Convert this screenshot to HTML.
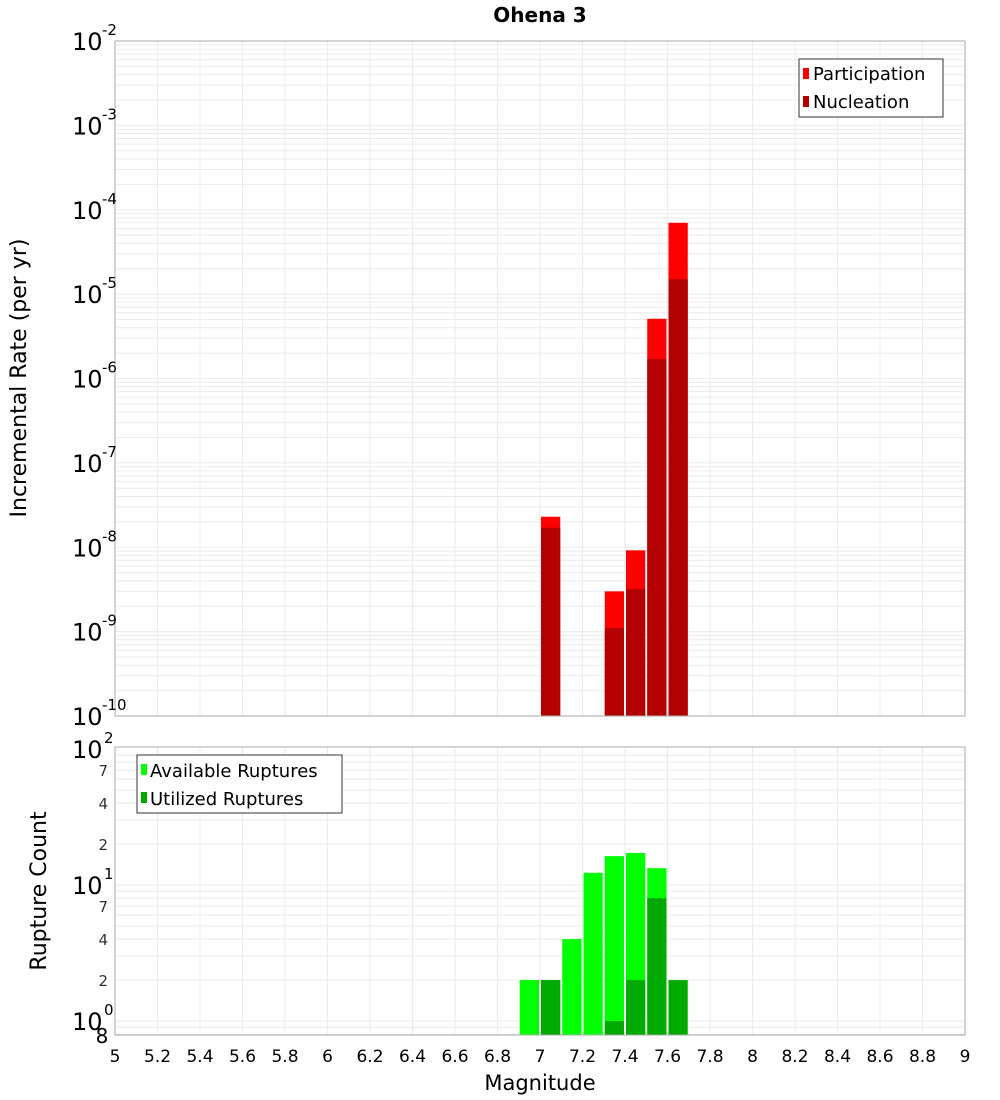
<!DOCTYPE html>
<html><head><meta charset="utf-8"><style>
body{margin:0;background:#fff;}
svg{display:block;font-family:"DejaVu Sans","Liberation Sans",sans-serif;}
</style></head><body>
<svg id="chart" width="1000" height="1100" xmlns="http://www.w3.org/2000/svg">
<rect width="1000" height="1100" fill="#fff"/>
<text x="540" y="22" text-anchor="middle" font-size="20" font-weight="bold">Ohena 3</text>
<g id="topg"></g>
<g id="botg"></g>
<text transform="translate(26,378) rotate(-90)" text-anchor="middle" font-size="22">Incremental Rate (per yr)</text>
<text transform="translate(46,891) rotate(-90)" text-anchor="middle" font-size="22">Rupture Count</text>
<text x="540" y="1090" text-anchor="middle" font-size="21">Magnitude</text>
<g>
<rect x="799" y="59" width="144" height="58" fill="#fff" stroke="#333" stroke-width="1"/>
<rect x="803" y="68" width="6" height="11" fill="#ff0000"/>
<text x="813" y="80" font-size="18">Participation</text>
<rect x="803" y="96" width="6" height="11" fill="#b30000"/>
<text x="813" y="108" font-size="18">Nucleation</text>
</g>
<g>
<rect x="137" y="755" width="205" height="58" fill="#fff" stroke="#333" stroke-width="1"/>
<rect x="141" y="764" width="6" height="11" fill="#00ff00"/>
<text x="150" y="777" font-size="18">Available Ruptures</text>
<rect x="141" y="792" width="6" height="11" fill="#00aa00"/>
<text x="150" y="805" font-size="18">Utilized Ruptures</text>
</g>
</svg>
<script>
const magBins = [6.95, 7.05, 7.15, 7.25, 7.35, 7.45, 7.55, 7.65];
const participation = [0, 2.3e-8, 0, 0, 3.0e-9, 9.2e-9, 5.1e-6, 7.0e-5];
const nucleation = [0, 1.7e-8, 0, 0, 1.1e-9, 3.2e-9, 1.7e-6, 1.5e-5];
const available = [2, 2, 4, 12.3, 16.3, 17.2, 13.3, 0];
const utilized = [0, 2, 0, 0, 1, 2, 8, 2];
const xTicks = ["5","5.2","5.4","5.6","5.8","6","6.2","6.4","6.6","6.8","7","7.2","7.4","7.6","7.8","8","8.2","8.4","8.6","8.8","9"];
const topExps = [-2,-3,-4,-5,-6,-7,-8,-9,-10];
const botExps = [2,1,0];
const botMinor = [2,4,7];

const NS="http://www.w3.org/2000/svg";
const X0=115,X1=965;
const xs=m=>X0+(m-5)/4*(X1-X0);
const yTop=v=>41+(-2-Math.log10(v))*84.375;
const yBot=v=>1021-136*Math.log10(v);
function mk(p,tag,a){const e=document.createElementNS(NS,tag);for(const k in a)e.setAttribute(k,a[k]);p.appendChild(e);return e;}
const topG=document.getElementById('topg'),botG=document.getElementById('botg');

let r=mk(topG,'rect',{x:X0,y:41,width:X1-X0,height:675,fill:'#fff'});


let r2=mk(botG,'rect',{x:X0,y:747,width:X1-X0,height:288,fill:'#fff'});


for(let d=-10;d<-2;d++){for(let k=1;k<10;k++){const y=yTop(k*Math.pow(10,d));mk(topG,'line',{x1:X0,x2:X1,y1:y,y2:y,stroke:'#ebebeb','stroke-width':1});}}
xTicks.forEach(t=>{const x=xs(+t);mk(topG,'line',{x1:x,x2:x,y1:41,y2:716,stroke:'#ebebeb'});mk(botG,'line',{x1:x,x2:x,y1:747,y2:1035,stroke:'#ebebeb'});});
for(let d=-1;d<2;d++){for(let k=1;k<10;k++){const v=k*Math.pow(10,d);const y=yBot(v);if(y<747||y>1035)continue;mk(botG,'line',{x1:X0,x2:X1,y1:y,y2:y,stroke:'#ebebeb'});}}
const bw=(X1-X0)/40;
function bar(g,m,v,yf,base,col,name){if(!v)return;const x=xs(m)-bw/2+1;const y=yf(v);const e=mk(g,'rect',{x:x,y:y,width:bw-2,height:base-y,fill:col});}
magBins.forEach((m,i)=>{bar(topG,m,participation[i],yTop,716,'#ff0000','participation-bar');bar(topG,m,nucleation[i],yTop,716,'#b30000','nucleation-bar');
bar(botG,m,available[i],yBot,1035,'#00ff00','available-bar');bar(botG,m,utilized[i],yBot,1035,'#00aa00','utilized-bar');});
mk(topG,'rect',{x:X0,y:41,width:X1-X0,height:675,fill:'none',stroke:'#aaa'});
mk(botG,'rect',{x:X0,y:747,width:X1-X0,height:288,fill:'none',stroke:'#aaa'});
topExps.forEach(e=>{const y=yTop(Math.pow(10,e));const t=mk(topG,'text',{x:72,y:y+9,'font-size':24});t.textContent='10';


const s=mk(topG,'text',{x:102,y:y-6,'font-size':15});s.textContent=String(e);});
botExps.forEach(e=>{const y=yBot(Math.pow(10,e));const t=mk(botG,'text',{x:72,y:y+9,'font-size':24});t.textContent='10';


const s=mk(botG,'text',{x:104,y:y-6,'font-size':15});s.textContent=String(e);});
[1,10].forEach(b=>botMinor.forEach(k=>{const y=yBot(k*b);const t=mk(botG,'text',{x:108,y:y+6,'font-size':15,'text-anchor':'end',fill:'#333'});t.textContent=String(k);}));
{const t=mk(botG,'text',{x:102,y:1043,'font-size':20,'text-anchor':'middle'});t.textContent='8';}
xTicks.forEach(v=>{const t=mk(botG,'text',{x:xs(+v),y:1062,'font-size':17,'text-anchor':'middle'});t.textContent=v;

});
</script>
</body></html>
